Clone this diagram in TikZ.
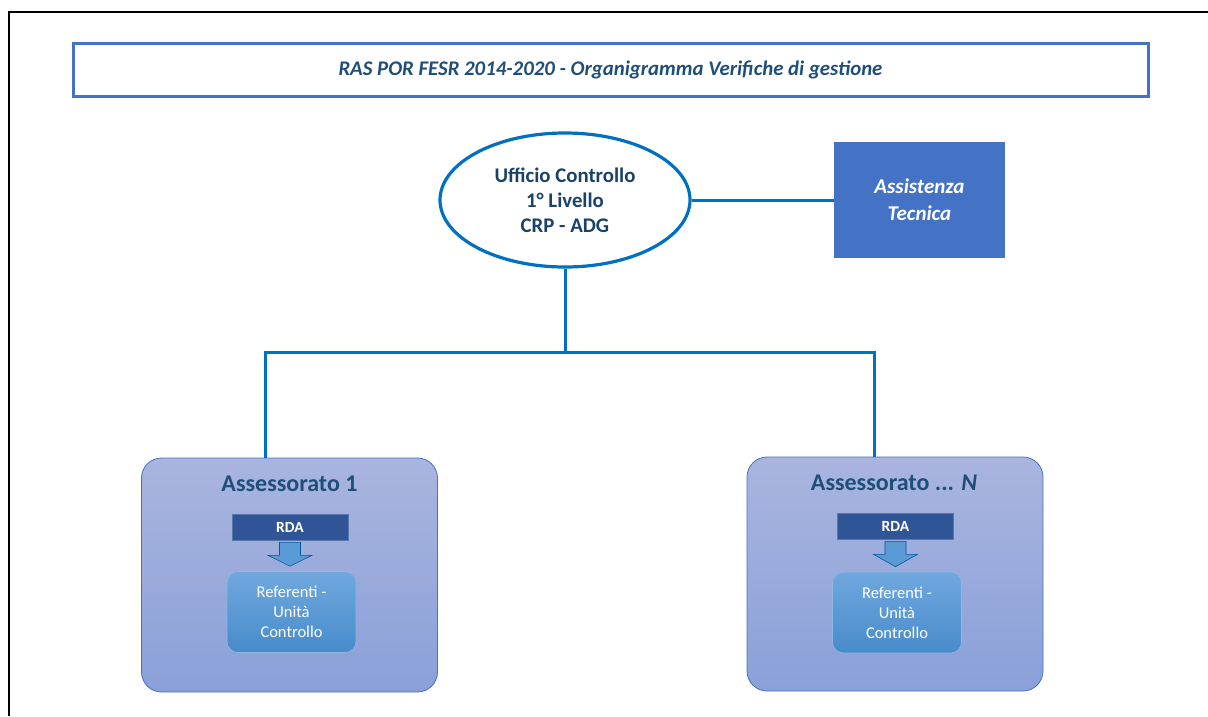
\documentclass[tikz,border=0pt]{standalone}
\usepackage{fontspec}
\setmainfont{Carlito}
\usepackage{xcolor}
\usetikzlibrary{positioning,shapes.geometric,calc}

\definecolor{offblue}{HTML}{4472C4}
\definecolor{linkblue}{HTML}{0070C0}
\definecolor{txtblue}{HTML}{1F4E79}
\definecolor{navyblue}{HTML}{2F5597}
\definecolor{asstop}{HTML}{A9B5DF}
\definecolor{assbot}{HTML}{8AA0D8}
\definecolor{reftop}{HTML}{70A8DE}
\definecolor{refbot}{HTML}{478BCB}
\definecolor{arrblue}{HTML}{5B9BD5}

\begin{document}
\begin{tikzpicture}[
    x=1pt, y=-1pt,
    every node/.style={font=\bfseries, align=center},
    titlebox/.style={draw=offblue,line width=3pt,minimum width=1075pt,minimum height=53pt,
                     text=txtblue,font=\fontsize{20.8}{24}\selectfont\bfseries\itshape},
    office/.style={draw=linkblue,line width=3.2pt,ellipse,minimum width=250pt,minimum height=134pt,
                   inner sep=0pt,text=txtblue!85!black,font=\fontsize{20.8}{25}\selectfont\bfseries},
    support/.style={fill=offblue,minimum width=171pt,minimum height=116pt,text=white,
                    font=\fontsize{21}{27}\selectfont\bfseries\itshape},
    dept/.style={draw=offblue,line width=0.8pt,rounded corners=20pt,top color=asstop,
                 bottom color=assbot,minimum width=296pt,minimum height=234pt},
    depttitle/.style={text=txtblue,font=\fontsize{24}{28}\selectfont\bfseries},
    rda/.style={fill=navyblue,draw=navyblue!80!white,line width=0.6pt,minimum width=116pt,
                minimum height=26pt,inner sep=0pt,text=white,font=\fontsize{15.5}{18}\selectfont\bfseries},
    unit/.style={draw=reftop!80!white,line width=0.6pt,rounded corners=11pt,top color=reftop,
                 bottom color=refbot,minimum width=129pt,minimum height=81pt,text=white,
                 font=\fontsize{16.5}{20}\selectfont},
    blkarrow/.style={fill=arrblue,draw=linkblue!80!black,line width=0.6pt,line join=miter},
    conn/.style={draw=linkblue,line width=3pt},
    frame/.style={line width=2.5pt}
]
\useasboundingbox (0,0) rectangle (1208,716);

% page frame
\draw[frame] (9,716) -- (9,12) -- (1208,12);

% heading
\node[titlebox] (title) at (610.5,69.5) {RAS POR FESR 2014-2020 - Organigramma Verifiche di gestione};

% control office and technical support
\node[office] (ufficio) at (565,200) {Ufficio Controllo\\1° Livello\\CRP - ADG};
\node[support] (assist) at (919.5,200) {Assistenza\\Tecnica};
\draw[conn] (ufficio.east) -- (assist.west);

% departments
\node[dept] (ass1) at (289.5,575) {};
\node[dept] (assN) at (895,574) {};

\coordinate (busL) at (265,352);
\coordinate (busR) at (874,352);
\draw[conn] (ufficio.south) -- (ufficio.south |- busL);
\draw[conn] (busL |- ass1.north) -- (busL) -- (busR) -- (busR |- assN.north);

% department 1
\node[depttitle] (name1) at (289.5,484) {Assessorato 1};
\node[rda] (rda1) at (290,527) {RDA};
\node[unit] (ref1) at (291.5,612) {\mdseries Referenti -\\\mdseries Unità\\\mdseries Controllo};
\draw[blkarrow] ($(rda1.south)+(-10.5,2)$) -- ++(21,0) -- ++(0,13) -- ++(11.5,0)
    -- ($(ref1.north)+(-1.5,-5)$) -- ($(rda1.south)+(-22,15)$) -- ++(11.5,0) -- cycle;

% department N
\node[depttitle] (nameN) at (894,483) {Assessorato ... \textit{N}};
\node[rda] (rdaN) at (895.5,526) {RDA};
\node[unit] (refN) at (897,612.5) {\mdseries Referenti -\\\mdseries Unità\\\mdseries Controllo};
\draw[blkarrow] ($(rdaN.south)+(-10.5,2)$) -- ++(21,0) -- ++(0,13) -- ++(11.5,0)
    -- ($(refN.north)+(-1.5,-5)$) -- ($(rdaN.south)+(-22,15)$) -- ++(11.5,0) -- cycle;

\end{tikzpicture}
\end{document}
